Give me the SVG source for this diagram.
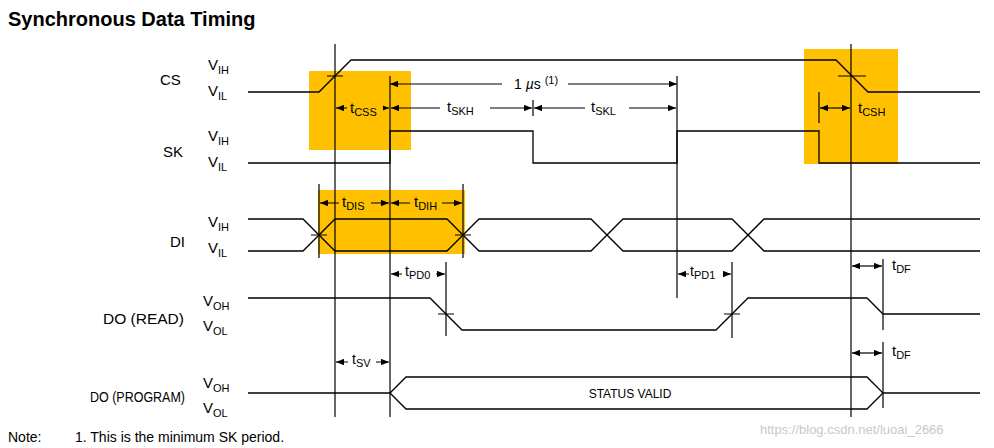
<svg xmlns="http://www.w3.org/2000/svg" width="994" height="448" viewBox="0 0 994 448">
<style>
text{font-family:"Liberation Sans",Arial,sans-serif;fill:#000}
.lbl{font-size:15px}
.sm{font-size:11px}
.sig{fill:none;stroke:#000;stroke-width:1.3}
.v{stroke:#000;stroke-width:1.2}
.dim{stroke:#000;stroke-width:1.2;marker-end:url(#ah);marker-start:url(#ahs)}
.box{fill:#FFC000}
</style>
<defs>
<marker id="ah" viewBox="0 0 10 8" refX="10" refY="4" markerWidth="8" markerHeight="6.4" markerUnits="userSpaceOnUse" orient="auto"><path d="M0,0L10,4L0,8z"/></marker>
<marker id="ahs" viewBox="0 0 10 8" refX="0" refY="4" markerWidth="8" markerHeight="6.4" markerUnits="userSpaceOnUse" orient="auto"><path d="M10,0L0,4L10,8z"/></marker>
</defs>
<rect width="994" height="448" fill="#fff"/>
<text x="8" y="26" style="font-size:20px;font-weight:bold">Synchronous Data Timing</text>
<g id="boxes">
<rect class="box" x="309" y="71" width="102" height="79"/>
<rect class="box" x="804" y="49" width="94" height="115"/>
<rect class="box" x="318" y="190" width="147" height="64"/>
</g>
<g id="labels" class="lbl">
<text x="160" y="85">CS</text><text x="208" y="70">V<tspan class="sm" dy="4">IH</tspan></text><text x="208" y="96">V<tspan class="sm" dy="4">IL</tspan></text>
<text x="163" y="157">SK</text><text x="208" y="141">V<tspan class="sm" dy="4">IH</tspan></text><text x="208" y="167">V<tspan class="sm" dy="4">IL</tspan></text>
<text x="170" y="247">DI</text><text x="208" y="227">V<tspan class="sm" dy="4">IH</tspan></text><text x="208" y="253">V<tspan class="sm" dy="4">IL</tspan></text>
<text x="103" y="324" textLength="81" lengthAdjust="spacingAndGlyphs">DO (READ)</text><text x="203" y="306">V<tspan class="sm" dy="4">OH</tspan></text><text x="203" y="331">V<tspan class="sm" dy="4">OL</tspan></text>
<text x="90" y="402" textLength="95" lengthAdjust="spacingAndGlyphs">DO (PROGRAM)</text><text x="203" y="388">V<tspan class="sm" dy="4">OH</tspan></text><text x="203" y="413">V<tspan class="sm" dy="4">OL</tspan></text>
</g>
<g id="signals">
<path class="sig" d="M248,92H319L351,60H836L868,92H980"/>
<path class="sig" d="M248,163H390V131H533V163H677V131H819V163H980"/>
<path class="sig" d="M248,219H303L335,251H447L479,219H591L623,251H732L764,219H980"/>
<path class="sig" d="M248,251H303L335,219H447L479,251H591L623,219H732L764,251H980"/>
<path class="sig" d="M248,298H430L462,330H716L748,298H867L883,314H980"/>
<path class="sig" d="M248,393H390L406,377H867L883,393L867,409H406L390,393M883,393H980"/>
</g>
<g id="connectors">
<line class="v" x1="335" y1="44" x2="335" y2="417"/>
<line class="v" x1="390" y1="76" x2="390" y2="417"/>
<line class="v" x1="677" y1="76" x2="677" y2="298"/>
<line class="v" x1="851" y1="44" x2="851" y2="417"/>
<line class="v" x1="819" y1="92" x2="819" y2="123"/>
<line class="v" x1="533" y1="100" x2="533" y2="116"/>
<line class="v" x1="319" y1="184" x2="319" y2="258"/>
<line class="v" x1="463" y1="184" x2="463" y2="258"/>
<line class="v" x1="446" y1="262" x2="446" y2="336"/>
<line class="v" x1="732" y1="262" x2="732" y2="338"/>
<line class="v" x1="883" y1="259" x2="883" y2="330"/>
<line class="v" x1="883" y1="342" x2="883" y2="408"/>
<path class="v" d="M327,76H343M838,76H866M311,235H327M455,235H471M438,314H454M724,314H740"/>
<line class="dim" x1="502" y1="84" x2="390" y2="84" style="marker-start:none"/>
<line class="dim" x1="568" y1="84" x2="677" y2="84" style="marker-start:none"/>
<line class="dim" x1="336" y1="108" x2="389" y2="108"/>
<line class="v" x1="391" y1="108" x2="532" y2="108" style="marker-start:url(#ahs);marker-end:url(#ah)"/>
<line class="v" x1="534" y1="108" x2="676" y2="108" style="marker-start:url(#ahs);marker-end:url(#ah)"/>
<line class="dim" x1="820" y1="108" x2="850" y2="108"/>
<line class="dim" x1="320" y1="203" x2="389" y2="203"/>
<line class="dim" x1="391" y1="203" x2="462" y2="203"/>
<line class="dim" x1="391" y1="274" x2="445" y2="274"/>
<line class="dim" x1="678" y1="274" x2="731" y2="274"/>
<line class="dim" x1="852" y1="266" x2="882" y2="266"/>
<line class="dim" x1="852" y1="353" x2="882" y2="353"/>
<line class="dim" x1="336" y1="362" x2="389" y2="362"/>
</g>
<g id="dimlabels" class="lbl">
<rect x="347" y="97" width="36" height="20" fill="#FFC000"/>
<text x="350" y="113">t<tspan class="sm" dy="3">CSS</tspan></text>
<rect x="440" y="98" width="50" height="18" fill="#fff"/>
<text x="447" y="112">t<tspan class="sm" dy="3">SKH</tspan></text>
<rect x="585" y="98" width="44" height="18" fill="#fff"/>
<text x="591" y="112">t<tspan class="sm" dy="3">SKL</tspan></text>
<rect x="505" y="75" width="62" height="18" fill="#fff"/>
<text x="514" y="89" style="font-size:14px">1 <tspan font-style="italic">µ</tspan>s <tspan class="sm" dy="-5">(1)</tspan></text>
<text x="858" y="113">t<tspan class="sm" dy="3">CSH</tspan></text>
<rect x="339" y="194" width="32" height="18" fill="#FFC000"/>
<text x="342" y="207">t<tspan class="sm" dy="3">DIS</tspan></text>
<rect x="410" y="194" width="32" height="18" fill="#FFC000"/>
<text x="414" y="207">t<tspan class="sm" dy="3">DIH</tspan></text>
<rect x="402" y="266" width="34" height="16" fill="#fff"/>
<text x="405" y="276" style="font-size:14px">t<tspan class="sm" dy="3">PD0</tspan></text>
<rect x="689" y="266" width="34" height="16" fill="#fff"/>
<text x="690" y="276" style="font-size:14px">t<tspan class="sm" dy="3">PD1</tspan></text>
<text x="892" y="270">t<tspan class="sm" dy="3">DF</tspan></text>
<text x="892" y="356">t<tspan class="sm" dy="3">DF</tspan></text>
<rect x="348" y="354" width="28" height="16" fill="#fff"/>
<text x="352" y="364" style="font-size:14px">t<tspan class="sm" dy="3">SV</tspan></text>
<text x="630" y="398" text-anchor="middle" style="font-size:12px">STATUS  VALID</text>
</g>
<g id="note">
<text x="8" y="442" style="font-size:14px">Note:</text>
<text x="75" y="442" style="font-size:14px">1.  This is the minimum SK period.</text>
<text x="760" y="434" style="font-size:13px;fill:#c8c8c8">https://blog.csdn.net/luoai_2666</text>
</g>
</svg>
